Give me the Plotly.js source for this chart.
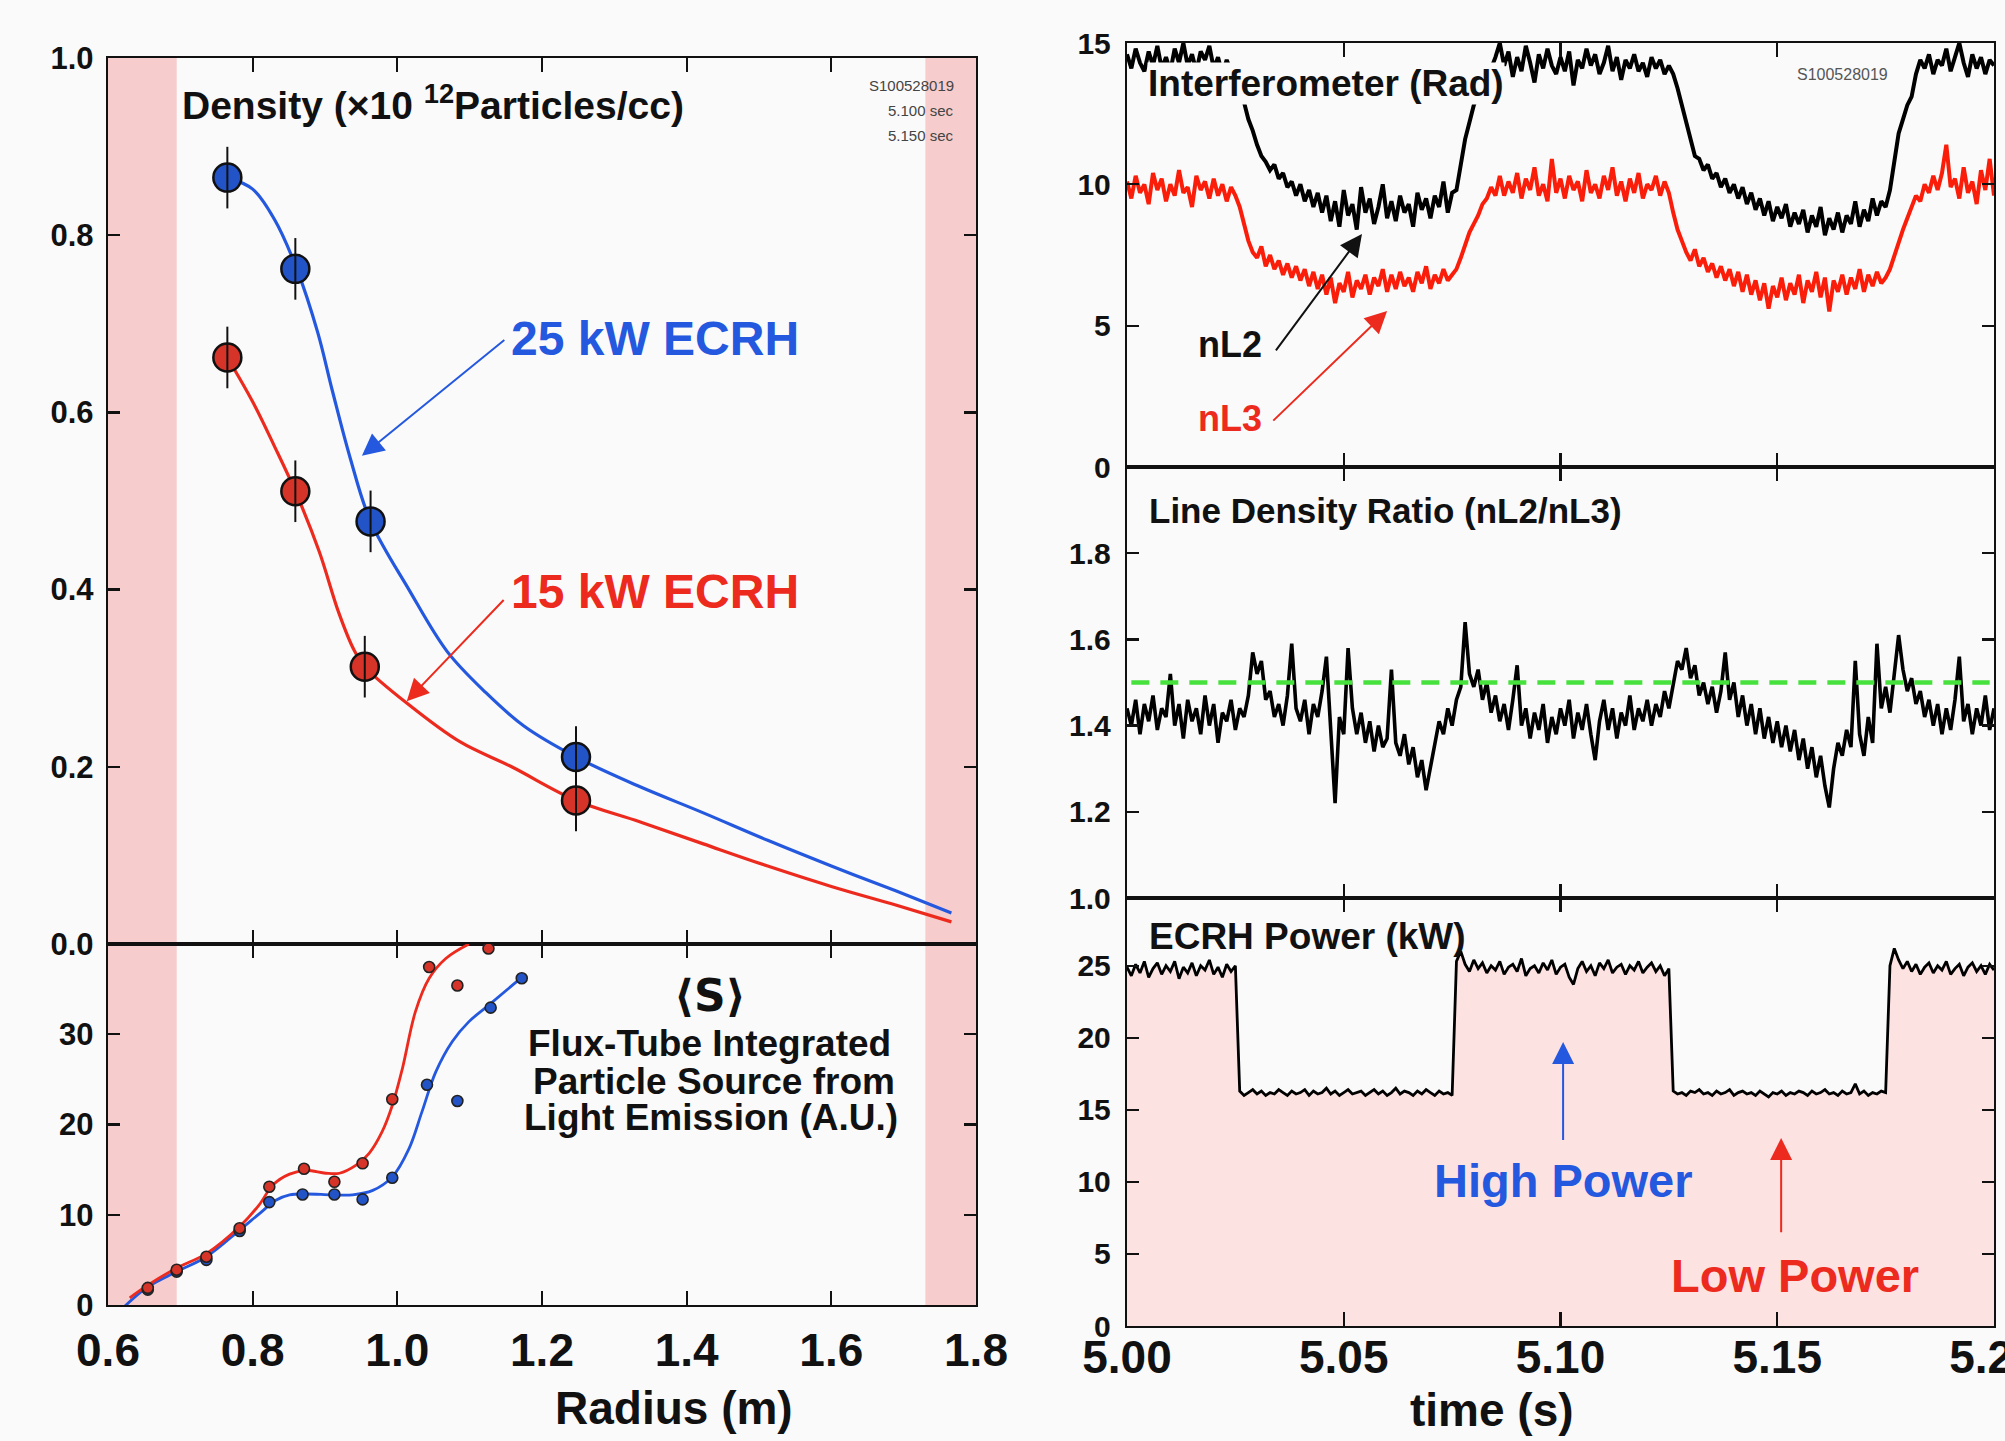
<!DOCTYPE html>
<html>
<head>
<meta charset="utf-8">
<script src="https://cdn.plot.ly/plotly-3.0.1.min.js"></script>
<style>
  html, body { margin: 0; padding: 0; background: #fafafa; overflow: hidden; }
  #chart { width: 2005px; height: 1441px; }
</style>
</head>
<body>
<div id="chart"></div>
<script>
// ---------- Radial profiles (left column) ----------
// Measured density points, 25 kW and 15 kW ECRH
const radius25 = [0.765, 0.859, 0.963, 1.247];
const density25 = [0.865, 0.762, 0.477, 0.211];
const radius15 = [0.765, 0.859, 0.955, 1.247];
const density15 = [0.662, 0.511, 0.313, 0.162];

// Fitted density curves
const fitR25 = [0.765, 0.80, 0.83, 0.861, 0.89, 0.91, 0.935, 0.963, 1.016, 1.069, 1.122, 1.175, 1.247, 1.334, 1.423, 1.512, 1.60, 1.689, 1.766];
const fitN25 = [0.865, 0.852, 0.818, 0.762, 0.69, 0.625, 0.548, 0.477, 0.40, 0.33, 0.284, 0.246, 0.211, 0.178, 0.148, 0.117, 0.088, 0.060, 0.035];
const fitR15 = [0.765, 0.80, 0.83, 0.859, 0.892, 0.919, 0.94, 0.955, 1.016, 1.087, 1.158, 1.247, 1.335, 1.423, 1.512, 1.60, 1.689, 1.766];
const fitN15 = [0.662, 0.612, 0.562, 0.511, 0.443, 0.374, 0.332, 0.313, 0.27, 0.228, 0.200, 0.162, 0.138, 0.113, 0.088, 0.065, 0.044, 0.025];

// Flux-tube integrated particle source <S>
const srcR25 = [0.621, 0.655, 0.695, 0.736, 0.782, 0.823, 0.869, 0.913, 0.952, 0.993, 1.041, 1.083, 1.129, 1.172];
const srcS25 = [-0.3, 1.7, 3.7, 5.0, 8.2, 11.4, 12.25, 12.25, 11.7, 14.1, 24.4, 22.6, 32.95, 36.2];
const srcR15 = [0.655, 0.695, 0.736, 0.782, 0.823, 0.871, 0.913, 0.952, 0.993, 1.044, 1.083, 1.126];
const srcS15 = [1.9, 3.9, 5.35, 8.5, 13.1, 15.1, 13.65, 15.7, 22.8, 37.45, 35.4, 39.5];

const srcFitR25 = [0.621, 0.655, 0.695, 0.736, 0.782, 0.809, 0.832, 0.851, 0.874, 0.91, 0.938, 0.966, 0.993, 1.016, 1.034, 1.053, 1.076, 1.099, 1.126, 1.172];
const srcFitS25 = [-0.3, 2.0, 3.7, 5.35, 8.3, 10.1, 11.6, 12.2, 12.3, 12.2, 12.2, 12.7, 14.2, 17.3, 21.4, 25.8, 29.2, 31.4, 33.2, 36.3];
const srcFitR15 = [0.63, 0.655, 0.695, 0.736, 0.782, 0.809, 0.828, 0.851, 0.874, 0.901, 0.92, 0.943, 0.961, 0.979, 0.993, 1.007, 1.025, 1.044, 1.067, 1.099];
const srcFitS15 = [0.8, 2.2, 4.1, 5.7, 8.7, 11.1, 13.3, 14.5, 14.9, 14.6, 14.6, 15.5, 16.8, 19.2, 22.1, 26.2, 32.5, 36.2, 38.4, 40.0];

// Limiter shadow regions (m)
const shadowInner = [0.6, 0.695];
const shadowOuter = [1.73, 1.8];

// ---------- Time traces (right column), 1 ms samples from 5.000 s ----------
const T_START = 5.000;
const T_STEP = 0.001;
const timeTicks = [5.00, 5.05, 5.10, 5.15, 5.20];

// Interferometer phase, chord nL2 (rad)
const nL2 = [
  14.6, 14.1, 14.8, 14.3, 14.0, 14.7, 14.2, 14.9, 14.1, 14.5,
  14.0, 14.8, 14.3, 15.0, 14.2, 14.6, 14.0, 14.7, 14.4, 14.9,
  14.1, 14.5, 13.9, 14.4, 14.0, 13.8, 13.2, 12.9, 12.3, 11.9,
  11.4, 11.0, 10.8, 10.5, 10.7, 10.2, 10.4, 9.9, 10.1, 9.6,
  10.0, 9.4, 9.8, 9.2, 9.7, 9.0, 9.6, 8.7, 9.4, 8.5,
  9.8, 8.9, 9.3, 8.4, 9.9, 9.0, 9.5, 8.6, 9.2, 10.0,
  8.8, 9.4, 8.7, 9.6, 9.0, 9.3, 8.5, 9.7, 9.1, 9.5,
  8.8, 9.6, 9.2, 10.1, 9.0, 9.7, 9.8, 10.8, 11.6, 12.2,
  12.8, 13.2, 13.6, 13.9, 14.1, 14.5, 15.0, 14.2, 14.7, 13.8,
  14.5, 14.0, 14.9, 14.3, 13.6, 14.6, 14.1, 14.8, 14.2, 13.9,
  14.5, 14.0, 14.7, 13.5, 14.4, 14.1, 14.8, 14.2, 14.6, 13.9,
  14.3, 14.9, 14.0, 14.5, 13.7, 14.4, 14.1, 14.6, 14.0, 14.3,
  13.8, 14.5, 14.1, 14.4, 13.9, 14.2, 13.9, 13.4, 12.8, 12.1,
  11.6, 11.0, 10.9, 10.5, 10.7, 10.2, 10.4, 9.9, 10.2, 9.7,
  10.0, 9.5, 9.9, 9.3, 9.7, 9.1, 9.5, 8.9, 9.4, 8.7,
  9.2, 8.8, 9.3, 8.5, 9.0, 8.6, 9.1, 8.3, 8.9, 8.5,
  9.2, 8.2, 8.8, 8.4, 9.0, 8.3, 8.9, 8.6, 9.4, 8.5,
  9.1, 8.7, 9.5, 8.9, 9.4, 9.2, 9.8, 10.9, 11.8, 12.3,
  12.8, 13.1, 13.9, 14.4, 14.1, 14.6, 13.9, 14.4, 14.2, 14.8,
  14.0, 14.5, 15.0, 14.3, 13.8, 14.6, 14.1, 14.5, 13.9, 14.4,
  14.2
];

// Interferometer phase, chord nL3 (rad)
const nL3 = [
  10.1, 9.5, 10.3, 9.7, 10.0, 9.3, 10.4, 9.8, 10.2, 9.4,
  10.0, 9.6, 10.5, 9.7, 9.9, 9.2, 10.3, 9.8, 10.1, 9.5,
  10.2, 9.6, 10.0, 9.4, 9.9, 9.6, 9.2, 8.6, 8.0, 7.6,
  7.4, 7.8, 7.1, 7.5, 7.0, 7.3, 6.8, 7.2, 6.7, 7.1,
  6.6, 7.0, 6.4, 6.9, 6.3, 6.8, 6.1, 6.7, 5.8, 6.5,
  6.2, 6.9, 6.0, 6.6, 6.3, 6.8, 6.1, 6.7, 6.4, 7.0,
  6.2, 6.8, 6.3, 6.9, 6.4, 6.7, 6.2, 6.9, 6.5, 7.1,
  6.3, 6.8, 6.5, 7.0, 6.6, 6.8, 7.0, 7.4, 7.9, 8.3,
  8.6, 8.9, 9.3, 9.5, 9.9, 9.6, 10.3, 9.6, 10.1, 9.7,
  10.4, 9.5, 10.2, 9.8, 10.6, 9.6, 10.0, 9.4, 10.9, 9.7,
  10.2, 9.5, 10.3, 9.8, 10.1, 9.4, 10.5, 9.7, 10.0, 9.5,
  10.3, 9.8, 10.6, 9.6, 10.1, 9.4, 10.2, 9.7, 10.4, 9.5,
  10.0, 9.8, 10.3, 9.6, 10.1, 9.7, 9.0, 8.4, 8.0, 7.6,
  7.3, 7.7, 7.1, 7.4, 6.9, 7.2, 6.7, 7.1, 6.6, 7.0,
  6.4, 6.9, 6.2, 6.8, 6.1, 6.6, 5.9, 6.5, 5.6, 6.4,
  6.0, 6.7, 5.9, 6.5, 6.1, 6.8, 5.8, 6.6, 6.2, 6.9,
  6.0, 6.7, 5.5, 6.6, 6.2, 6.8, 6.1, 6.7, 6.3, 7.0,
  6.2, 6.8, 6.4, 6.9, 6.5, 6.7, 7.0, 7.5, 8.0, 8.4,
  8.8, 9.2, 9.6, 9.4, 10.0, 9.7, 10.3, 9.8, 10.4, 11.4,
  9.9, 10.2, 9.5, 10.6, 9.7, 10.1, 9.3, 10.5, 9.8, 10.9,
  9.6
];

// Line density ratio nL2/nL3
const ratio = [
  1.44, 1.40, 1.46, 1.38, 1.45, 1.41, 1.47, 1.39, 1.44, 1.42,
  1.52, 1.40, 1.45, 1.37, 1.46, 1.41, 1.44, 1.38, 1.47, 1.40,
  1.45, 1.36, 1.43, 1.41, 1.46, 1.39, 1.44, 1.42, 1.47, 1.57,
  1.52, 1.55, 1.46, 1.48, 1.42, 1.45, 1.40, 1.47, 1.59, 1.44,
  1.41, 1.46, 1.38, 1.45, 1.42, 1.48, 1.56, 1.40, 1.22, 1.42,
  1.38, 1.58, 1.44, 1.38, 1.43, 1.36, 1.41, 1.34, 1.40, 1.35,
  1.37, 1.53, 1.36, 1.33, 1.38, 1.31, 1.35, 1.28, 1.32, 1.25,
  1.30, 1.36, 1.41, 1.38, 1.44, 1.40, 1.46, 1.49, 1.64, 1.52,
  1.49, 1.53, 1.46, 1.50, 1.43, 1.47, 1.41, 1.45, 1.39, 1.46,
  1.54, 1.40, 1.44, 1.37, 1.43, 1.39, 1.45, 1.36, 1.42, 1.38,
  1.44, 1.40, 1.46, 1.37, 1.43, 1.39, 1.45, 1.38, 1.32, 1.41,
  1.46, 1.39, 1.44, 1.37, 1.43, 1.40, 1.47, 1.39, 1.44, 1.41,
  1.46, 1.40, 1.45, 1.42, 1.48, 1.44, 1.50, 1.55, 1.53, 1.58,
  1.51, 1.54, 1.47, 1.50, 1.45, 1.49, 1.43, 1.48, 1.57, 1.46,
  1.50, 1.42, 1.47, 1.40, 1.45, 1.38, 1.44, 1.37, 1.42, 1.36,
  1.41, 1.35, 1.40, 1.34, 1.39, 1.32, 1.37, 1.30, 1.35, 1.28,
  1.33, 1.26, 1.21, 1.30, 1.36, 1.33, 1.39, 1.35, 1.55, 1.38,
  1.33, 1.42, 1.36, 1.59, 1.44, 1.49, 1.43, 1.52, 1.61, 1.53,
  1.48, 1.51, 1.45, 1.48, 1.42, 1.46, 1.40, 1.45, 1.38, 1.44,
  1.39, 1.46, 1.56, 1.41, 1.45, 1.38, 1.44, 1.40, 1.47, 1.39,
  1.44
];
const ratioRef = 1.5;

// ECRH power (kW)
const power = [
  24.9, 24.3, 25.1, 24.5, 25.3, 24.2, 24.8, 25.2, 24.4, 25.0,
  24.6, 25.3, 24.1, 24.9, 24.5, 25.2, 24.3, 25.0, 24.7, 25.4,
  24.4, 24.9, 24.2, 25.1, 24.6, 25.0, 16.3, 16.0, 16.2, 16.4,
  16.1, 16.3, 16.0, 16.2, 16.1, 16.4, 16.2, 16.0, 16.3, 16.1,
  16.2, 16.4, 16.0, 16.3, 16.1, 16.2, 16.5, 16.1, 16.3, 16.0,
  16.2, 16.4, 16.1, 16.2, 16.3, 16.0, 16.2, 16.4, 16.1, 16.3,
  16.0, 16.2, 16.5, 16.1, 16.3, 16.2, 16.0, 16.3, 16.1, 16.4,
  16.2, 16.0, 16.3, 16.1, 16.2, 16.0, 25.3, 26.0, 25.1, 24.6,
  25.4, 24.8, 25.2, 24.5, 25.0, 24.7, 25.3, 24.4, 24.9, 25.1,
  24.6, 25.5, 24.3, 24.8, 25.0, 24.5, 25.2, 24.7, 25.4, 24.4,
  24.9, 25.1, 24.2, 23.7, 24.8, 25.3, 24.6, 25.0, 24.3, 25.2,
  24.8, 25.4, 24.5, 24.9, 25.1, 24.4, 25.0, 24.7, 25.3, 24.5,
  24.9, 25.2, 24.6, 25.0, 24.3, 24.8, 16.3, 16.1, 16.2, 16.0,
  16.3, 16.2, 16.4, 16.1, 16.2, 16.0, 16.3, 16.1, 16.2, 16.4,
  16.0, 16.2, 16.3, 16.1, 16.2, 16.0, 16.3, 16.1, 15.9, 16.2,
  16.1, 16.3, 16.0, 16.2, 16.1, 16.3, 16.2, 16.0, 16.3, 16.1,
  16.2, 16.4, 16.1, 16.2, 16.0, 16.3, 16.1, 16.2, 16.8, 16.1,
  16.3, 16.0, 16.2, 16.1, 16.3, 16.2, 25.0, 26.2, 25.4, 24.8,
  25.3, 24.6, 25.1, 24.4, 24.9, 25.2, 24.5, 25.0, 24.7, 25.3,
  24.4, 24.8, 25.1, 24.3, 24.9, 25.2, 24.6, 25.0, 24.4, 25.1,
  24.7
];

const time = nL2.map((_, i) => +(T_START + i * T_STEP).toFixed(4));

// ---------- Styling ----------
const FONT = 'Liberation Sans, Arial, Helvetica, sans-serif';
const BLUE = 'rgb(36,88,222)';
const RED = 'rgb(236,42,30)';
const BLUE_DOT = 'rgb(34,84,200)';
const RED_DOT = 'rgb(214,52,40)';
const SHADE = 'rgb(247,204,204)';
const POWER_FILL = 'rgb(253,226,226)';
const BG = '#fafafa';

const traces = [
  // density fits
  { x: fitR25, y: fitN25, xaxis: 'x', yaxis: 'y', mode: 'lines',
    line: { color: BLUE, width: 3.2, shape: 'spline', smoothing: 1 } },
  { x: fitR15, y: fitN15, xaxis: 'x', yaxis: 'y', mode: 'lines',
    line: { color: RED, width: 3.2, shape: 'spline', smoothing: 1 } },
  // density points
  { x: radius25, y: density25, xaxis: 'x', yaxis: 'y', mode: 'markers',
    marker: { symbol: 'circle', size: 28, color: BLUE_DOT, line: { color: '#111', width: 2.5 } } },
  { x: radius15, y: density15, xaxis: 'x', yaxis: 'y', mode: 'markers',
    marker: { symbol: 'circle', size: 28, color: RED_DOT, line: { color: '#111', width: 2.5 } } },
  // error bars through the points
  { x: radius25, y: density25, xaxis: 'x', yaxis: 'y', mode: 'markers', cliponaxis: false,
    marker: { symbol: 'line-ns', size: 44, color: '#111', line: { color: '#111', width: 2 } } },
  { x: radius15, y: density15, xaxis: 'x', yaxis: 'y', mode: 'markers', cliponaxis: false,
    marker: { symbol: 'line-ns', size: 44, color: '#111', line: { color: '#111', width: 2 } } },

  // source fits
  { x: srcFitR25, y: srcFitS25, xaxis: 'x2', yaxis: 'y2', mode: 'lines',
    line: { color: BLUE, width: 2.8, shape: 'spline', smoothing: 1 } },
  { x: srcFitR15, y: srcFitS15, xaxis: 'x2', yaxis: 'y2', mode: 'lines',
    line: { color: RED, width: 2.8, shape: 'spline', smoothing: 1 } },
  // source points
  { x: srcR25, y: srcS25, xaxis: 'x2', yaxis: 'y2', mode: 'markers', cliponaxis: false,
    marker: { symbol: 'circle', size: 11, color: BLUE_DOT, line: { color: '#222', width: 1.6 } } },
  { x: srcR15, y: srcS15, xaxis: 'x2', yaxis: 'y2', mode: 'markers', cliponaxis: false,
    marker: { symbol: 'circle', size: 11, color: RED_DOT, line: { color: '#222', width: 1.6 } } },

  // interferometer
  { x: time, y: nL2, xaxis: 'x3', yaxis: 'y3', mode: 'lines',
    line: { color: '#000', width: 4 } },
  { x: time, y: nL3, xaxis: 'x3', yaxis: 'y3', mode: 'lines',
    line: { color: 'rgb(250,30,10)', width: 4 } },

  // density ratio
  { x: time, y: ratio, xaxis: 'x4', yaxis: 'y4', mode: 'lines',
    line: { color: '#000', width: 3.6 } },
  { x: [time[1], time[time.length - 2]], y: [ratioRef, ratioRef], xaxis: 'x4', yaxis: 'y4', mode: 'lines',
    line: { color: 'rgb(70,225,60)', width: 4.5, dash: '18px,11px' } },

  // ECRH power
  { x: time, y: power, xaxis: 'x5', yaxis: 'y5', mode: 'lines', fill: 'tozeroy',
    fillcolor: POWER_FILL, line: { color: '#000', width: 2.8 } }
];

const tickFontY = { family: FONT, size: 31, color: '#111', weight: 'bold' };
const tickFontYR = { family: FONT, size: 30, color: '#111', weight: 'bold' };
const tickFontX = { family: FONT, size: 46, color: '#111', weight: 'bold' };

function frameAxis(extra) {
  return Object.assign({
    showline: true, linecolor: '#111', linewidth: 2.2, mirror: 'ticks',
    ticks: 'inside', ticklen: 14, tickwidth: 2.2, tickcolor: '#111',
    showgrid: false, zeroline: false, fixedrange: true
  }, extra);
}

const LEFT = [108 / 2005, 976 / 2005];
const RIGHT = [1127 / 2005, 1994 / 2005];
const py = (px) => 1 - px / 1441;

const layout = {
  width: 2005, height: 1441,
  margin: { l: 0, r: 0, t: 0, b: 0 },
  paper_bgcolor: BG, plot_bgcolor: BG,
  showlegend: false,
  font: { family: FONT, color: '#111' },

  xaxis: frameAxis({ domain: LEFT, anchor: 'y', range: [0.6, 1.8], dtick: 0.2, tick0: 0.6, showticklabels: false }),
  yaxis: frameAxis({ domain: [py(944), py(58)], anchor: 'x', range: [0, 1], dtick: 0.2, tickformat: '.1f',
    ticklen: 12, tickfont: tickFontY, ticklabelstandoff: 6 }),

  xaxis2: frameAxis({ domain: LEFT, anchor: 'y2', range: [0.6, 1.8], dtick: 0.2, tick0: 0.6, tickformat: '.1f',
    tickfont: tickFontX, ticklabelstandoff: 4 }),
  yaxis2: frameAxis({ domain: [py(1305), py(944)], anchor: 'x2', range: [0, 40], tickvals: [0, 10, 20, 30],
    ticklen: 12, tickfont: tickFontY, ticklabelstandoff: 6 }),

  xaxis3: frameAxis({ domain: RIGHT, anchor: 'y3', range: [5.0, 5.2], tickvals: timeTicks, showticklabels: false }),
  yaxis3: frameAxis({ domain: [py(467), py(43)], anchor: 'x3', range: [0, 15], dtick: 5,
    ticklen: 12, tickfont: tickFontYR, ticklabelstandoff: 8 }),

  xaxis4: frameAxis({ domain: RIGHT, anchor: 'y4', range: [5.0, 5.2], tickvals: timeTicks, showticklabels: false }),
  yaxis4: frameAxis({ domain: [py(898), py(467)], anchor: 'x4', range: [1.0, 2.0], tickvals: [1.0, 1.2, 1.4, 1.6, 1.8],
    tickformat: '.1f', ticklen: 12, tickfont: tickFontYR, ticklabelstandoff: 8 }),

  xaxis5: frameAxis({ domain: RIGHT, anchor: 'y5', range: [5.0, 5.2], tickvals: timeTicks, tickformat: '.2f',
    tickfont: tickFontX, ticklabelstandoff: -10, ticklabeloverflow: 'allow' }),
  yaxis5: frameAxis({ domain: [py(1326), py(898)], anchor: 'x5', range: [0, 29.7], tickvals: [0, 5, 10, 15, 20, 25],
    ticklen: 12, tickfont: tickFontYR, ticklabelstandoff: 8 }),

  shapes: [shadowInner, shadowOuter].map(([a, b]) => ({
    type: 'rect', xref: 'x', yref: 'paper', x0: a, x1: b, y0: py(1305), y1: py(58),
    fillcolor: SHADE, line: { width: 0 }, layer: 'below'
  })),

  annotations: []
};

const A = layout.annotations;
function label(xref, yref, x, y, text, opts) {
  A.push(Object.assign({
    xref, yref, x, y, text, showarrow: false, yanchor: 'middle',
    font: { family: FONT, size: 36, color: '#111', weight: 'bold' }
  }, opts));
}
function arrow(xref, yref, tail, head, color) {
  A.push({
    xref, yref, axref: xref, ayref: yref,
    x: head[0], y: head[1], ax: tail[0], ay: tail[1],
    text: '', showarrow: true, arrowhead: 2, arrowsize: 2.2, arrowwidth: 2,
    arrowcolor: color, standoff: 0, startstandoff: 0
  });
}

// left: density panel
label('x', 'y', 0.70, 0.950, 'Density (×10 <sup>12</sup>Particles/cc)', { xanchor: 'left',
  font: { family: FONT, size: 39, color: '#111', weight: 'bold' } });
['S100528019', '5.100 sec', '5.150 sec'].forEach((s, i) => {
  label('x', 'y', 1.772, [0.969, 0.941, 0.913][i], s, { xanchor: 'right',
    font: { family: FONT, size: 15, color: '#444' } });
});
label('x', 'y', 1.154, 0.683, '25 kW ECRH', { xanchor: 'left',
  font: { family: FONT, size: 48, color: BLUE, weight: 'bold' } });
arrow('x', 'y', [1.150, 0.683], [0.951, 0.551], BLUE);
label('x', 'y', 1.154, 0.398, '15 kW ECRH', { xanchor: 'left',
  font: { family: FONT, size: 48, color: RED, weight: 'bold' } });
arrow('x', 'y', [1.149, 0.390], [1.013, 0.274], RED);

// left: source panel
label('x2', 'y2', 1.432, 34.3, '⟨S⟩', { font: { family: 'DejaVu Sans, ' + FONT, size: 44, color: '#111', weight: 'bold' } });
label('x2', 'y2', 1.431, 29.0, 'Flux-Tube Integrated', { font: { family: FONT, size: 37, color: '#111', weight: 'bold' } });
label('x2', 'y2', 1.438, 24.8, 'Particle Source from', { font: { family: FONT, size: 37, color: '#111', weight: 'bold' } });
label('x2', 'y2', 1.434, 20.8, 'Light Emission (A.U.)', { font: { family: FONT, size: 37, color: '#111', weight: 'bold' } });

// right: interferometer panel
label('x3', 'y3', 5.0045, 13.58, 'Interferometer (Rad)', { xanchor: 'left', bgcolor: BG, borderpad: 0,
  font: { family: FONT, size: 37, color: '#111', weight: 'bold' } });
label('x3', 'y3', 5.176, 13.9, 'S100528019', { xanchor: 'right',
  font: { family: FONT, size: 16, color: '#555' } });
label('x3', 'y3', 5.0238, 4.32, 'nL2', {});
label('x3', 'y3', 5.0238, 1.73, 'nL3', { font: { family: FONT, size: 36, color: RED, weight: 'bold' } });
arrow('x3', 'y3', [5.0341, 4.07], [5.0542, 8.24], '#111');
arrow('x3', 'y3', [5.0334, 1.59], [5.0600, 5.52], RED);

// right: ratio panel
label('x4', 'y4', 5.0045, 1.898, 'Line Density Ratio (nL2/nL3)', { xanchor: 'left',
  font: { family: FONT, size: 35, color: '#111', weight: 'bold' } });

// right: power panel
label('x5', 'y5', 5.0045, 27.0, 'ECRH Power (kW)', { xanchor: 'left',
  font: { family: FONT, size: 37, color: '#111', weight: 'bold' } });
label('x5', 'y5', 5.1006, 10.1, 'High Power', { font: { family: FONT, size: 47, color: BLUE, weight: 'bold' } });
arrow('x5', 'y5', [5.1006, 12.8], [5.1006, 19.7], BLUE);
label('x5', 'y5', 5.1541, 3.47, 'Low Power', { font: { family: FONT, size: 47, color: RED, weight: 'bold' } });
arrow('x5', 'y5', [5.1509, 6.4], [5.1509, 13.05], RED);

// axis titles
label('paper', 'paper', 553 / 2005, py(1408), 'Radius (m)', { font: { family: FONT, size: 46, color: '#111', weight: 'bold' } });
label('paper', 'paper', 1576 / 2005, py(1410), 'time (s)', { font: { family: FONT, size: 46, color: '#111', weight: 'bold' } });

Plotly.newPlot('chart', traces, layout, { staticPlot: true, displayModeBar: false });
</script>
</body>
</html>
